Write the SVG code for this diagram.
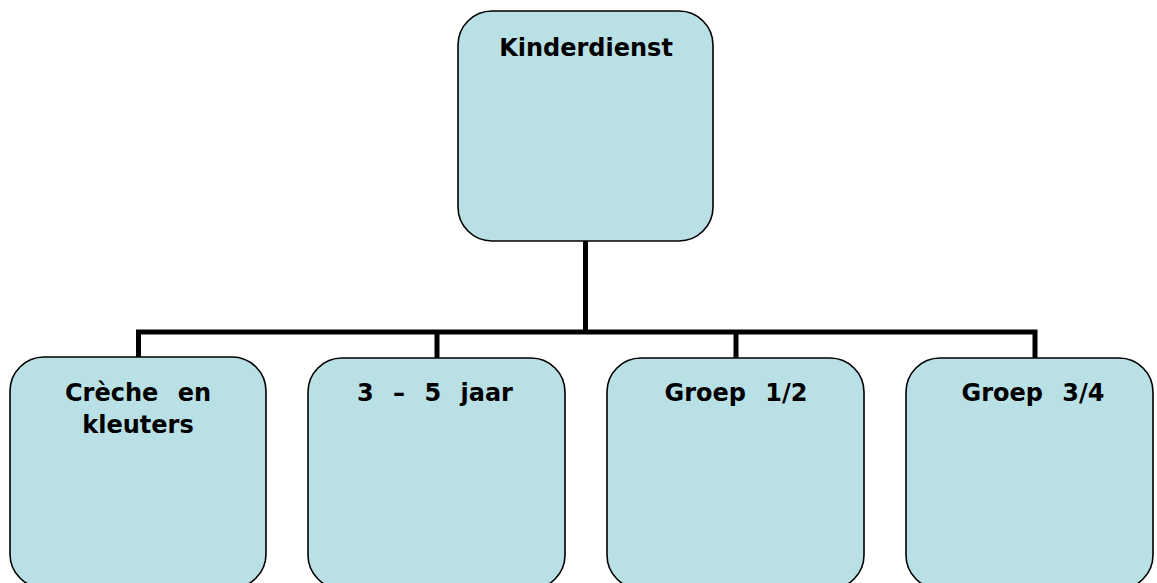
<svg xmlns="http://www.w3.org/2000/svg" width="1157" height="583" viewBox="0 0 1157 583">
  <style>
    .box { fill: #b9e0e4; stroke: #000; stroke-width: 1.6; }
    .lbl { font-family: "DejaVu Sans", "Liberation Sans", sans-serif; font-weight: bold; font-size: 24px; word-spacing: 11px; fill: #000; text-anchor: middle; }
    .wire { fill: none; stroke: #000; stroke-width: 5; }
  </style>
  <rect width="1157" height="583" fill="#fff"/>

  <!-- tree connectors -->
  <g id="connectors">
    <path class="wire" d="M585.5 241 V332 M136 332 H1037.5 M138.5 332 V357 M437 332 V358 M736 332 V358 M1035 332 V358"/>
  </g>

  <g id="node-kinderdienst">
    <rect class="box" x="458" y="11" width="255" height="230" rx="34"/>
    <text class="lbl" x="586" y="56">Kinderdienst</text>
  </g>

  <g id="node-creche">
    <rect class="box" x="10" y="357" width="256" height="231" rx="34"/>
    <text class="lbl" x="138" y="401">Crèche en</text>
    <text class="lbl" x="138" y="433">kleuters</text>
  </g>

  <g id="node-3-5">
    <rect class="box" x="308" y="358" width="257" height="231" rx="34"/>
    <text class="lbl" x="435" y="401">3 – 5 jaar</text>
  </g>

  <g id="node-groep12">
    <rect class="box" x="607" y="358" width="257" height="231" rx="34"/>
    <text class="lbl" x="736" y="401">Groep 1/2</text>
  </g>

  <g id="node-groep34">
    <rect class="box" x="906" y="358" width="247" height="231" rx="34"/>
    <text class="lbl" x="1033" y="401">Groep 3/4</text>
  </g>
</svg>
